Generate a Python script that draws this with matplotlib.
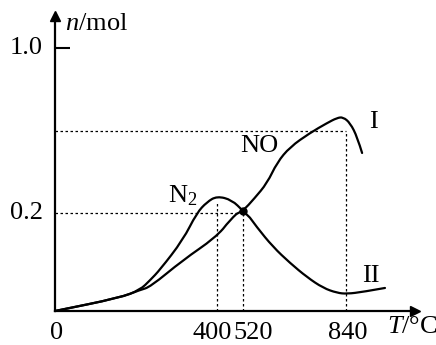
import numpy as np
import matplotlib
matplotlib.use("Agg")
import matplotlib.pyplot as plt
from matplotlib.scale import FuncScale
from matplotlib.path import Path
from matplotlib.patches import PathPatch

plt.rcParams['font.family'] = ['Liberation Serif', 'DejaVu Serif']
plt.rcParams['mathtext.fontset'] = 'custom'
plt.rcParams['mathtext.rm'] = 'Liberation Serif'
plt.rcParams['mathtext.it'] = 'Liberation Serif:italic'

# ---- data (schematic chart) ----
T_NO = [0, 160, 210, 235, 316, 395, 460, 520, 555, 595, 626, 666, 728, 781, 812, 831, 853, 875, 890]
n_NO = [0, 0.027, 0.043, 0.049, 0.104, 0.149, 0.186, 0.21, 0.27, 0.345, 0.445, 0.52, 0.588, 0.636, 0.661, 0.665, 0.636, 0.568, 0.491]

T_N2 = [0, 160, 210, 235, 259, 316, 350, 375, 400, 469, 520, 563, 613, 666, 719, 769, 812, 843, 893, 961]
n_N2 = [0, 0.027, 0.043, 0.063, 0.084, 0.145, 0.2, 0.253, 0.282, 0.263, 0.21, 0.171, 0.131, 0.098, 0.069, 0.047, 0.037, 0.035, 0.039, 0.047]

x_ticks = [0, 400, 520, 840]
x_ticklabels = ['0', '400', '520', '840']
y_ticks = [0.2, 1.0]
y_ticklabels = ['0.2', '1.0']
n_guide = 0.6          # upper dashed level (unlabelled)
n_peak_guide = 0.26    # top of dashed line at 400
n_cross = 0.21         # crossing point at 520

# ---- schematic (non-linear) axis scales: positions only ----
xk_val = [-1000, 0, 400, 520, 840, 3000]
xk_pos = [55 - 1000 * 0.405, 55, 217, 243, 346, 346 + 2160 * 0.322]
yk_val = [-1, 0, 0.2, 1.0, 3.0]
yk_pos = [-490, 0, 98, 263, 263 + 2 * 206.25]

fx = lambda v: np.interp(v, xk_val, xk_pos)
fxi = lambda p: np.interp(p, xk_pos, xk_val)
fy = lambda v: np.interp(v, yk_val, yk_pos)
fyi = lambda p: np.interp(p, yk_pos, yk_val)

W, H = 436, 345
fig = plt.figure(figsize=(W / 100, H / 100), dpi=100)
x0, y0 = 55, 311          # origin in image pixels
x1, y1 = 415, 16          # arrow tips
ax = fig.add_axes([x0 / W, (H - y0) / H, (x1 - x0) / W, (y0 - y1) / H])
ax.set_xscale(FuncScale(ax, (fx, fxi)))
ax.set_yscale(FuncScale(ax, (fy, fyi)))
ax.set_xlim(0, float(fxi(x1)))
ax.set_ylim(0, float(fyi(y0 - y1)))
ax.patch.set_alpha(0)

for s in ['top', 'right']:
    ax.spines[s].set_visible(False)
for s in ['left', 'bottom']:
    ax.spines[s].set_linewidth(1.6)

# arrow heads
ax.plot([1], [0], marker='>', ms=7, color='black', transform=ax.transAxes, clip_on=False)
ax.plot([0], [1], marker='^', ms=7, color='black', transform=ax.transAxes, clip_on=False)


def smooth_curve(xs, ys, **kw):
    """Draw a smooth line through the read points (quadratic Bezier via midpoints)."""
    pts = np.column_stack([xs, ys]).astype(float)
    verts = [pts[0]]
    codes = [Path.MOVETO]
    verts.append((pts[0] + pts[1]) / 2)
    codes.append(Path.LINETO)
    for i in range(1, len(pts) - 1):
        verts.append(pts[i])
        verts.append((pts[i] + pts[i + 1]) / 2 if i < len(pts) - 2 else pts[i + 1])
        codes += [Path.CURVE3, Path.CURVE3]
    patch = PathPatch(Path(verts, codes), facecolor='none', edgecolor='black',
                      capstyle='round', joinstyle='round', clip_on=False, **kw)
    ax.add_patch(patch)


lw = 1.6
smooth_curve(T_NO, n_NO, lw=lw)
smooth_curve(T_N2, n_N2, lw=lw)
ax.plot([520], [n_cross], 'o', color='black', ms=5)

# dashed guide lines
dkw = dict(color='black', lw=0.9, linestyle=(0, (2, 2)))
ax.plot([0, 520], [0.2, 0.2], **dkw)
ax.plot([0, 840], [n_guide, n_guide], **dkw)
ax.plot([840, 840], [0, n_guide], **dkw)
ax.plot([400, 400], [0, n_peak_guide], **dkw)
ax.plot([520, 520], [0, n_cross], **dkw)

# ticks
fs = 19
ax.set_xticks([])
ax.set_yticks(y_ticks)
ax.set_yticklabels([])
ax.tick_params(axis='y', direction='in', length=11, width=1.5)
ax.yaxis.get_major_ticks()[0].tick1line.set_visible(False)

x_offsets = [2, -5, 10, 2]
for v, lab, dx in zip(x_ticks, x_ticklabels, x_offsets):
    ax.annotate(lab, xy=(v, 0), xycoords='data', xytext=(dx, -22),
                textcoords='offset pixels', ha='center', va='center', fontsize=fs)
for v, lab in zip(y_ticks, y_ticklabels):
    ax.annotate(lab, xy=(0, v), xycoords='data', xytext=(-29, 0),
                textcoords='offset pixels', ha='center', va='center', fontsize=fs)

# axis labels
ax.annotate(r'$n$/mol', xy=(0, 1), xycoords='axes fraction', xytext=(10, -8),
            textcoords='offset pixels', ha='left', va='center', fontsize=fs)
ax.annotate(r'$T$/°C', xy=(1, 0), xycoords='axes fraction', xytext=(-3, -16),
            textcoords='offset pixels', ha='center', va='center', fontsize=fs)

# curve labels
ax.text(924, 0.641, 'I', ha='center', va='center', fontsize=fs)
ax.text(570, 0.525, 'NO', ha='center', va='center', fontsize=fs)
ax.text(279, 0.253, r'N$_2$', ha='left', va='baseline', fontsize=fs)
ax.text(918, 0.071, 'II', ha='center', va='center', fontsize=fs)

fig.savefig('out.png', dpi=100)
